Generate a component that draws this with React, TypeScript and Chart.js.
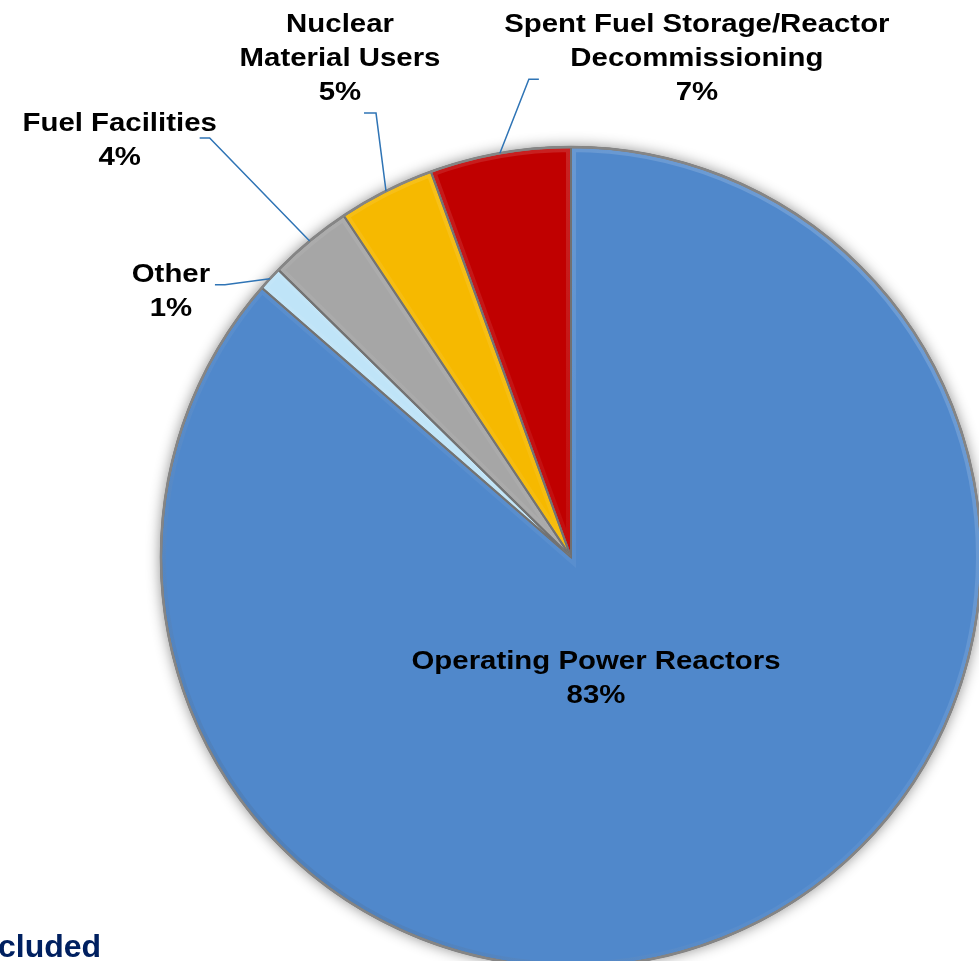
import React, { useEffect, useRef } from "react";
import { Chart, registerables } from "chart.js";
Chart.register(...registerables);

// Slices clockwise from 12 o'clock
const categories = [
  "Operating Power Reactors",
  "Other",
  "Fuel Facilities",
  "Nuclear Material Users",
  "Spent Fuel Storage/Reactor Decommissioning",
];
// Angular shares as drawn in the picture
const shares = [86.4, 0.95, 3.3, 3.8, 5.55];
// Percent labels printed on the chart
const percentLabels = ["83%", "1%", "4%", "5%", "7%"];
const labelLines = [
  ["Operating Power Reactors"],
  ["Other"],
  ["Fuel Facilities"],
  ["Nuclear", "Material Users"],
  ["Spent Fuel Storage/Reactor", "Decommissioning"],
];
const sliceColors = ["#5088CB", "#BFE4F8", "#A6A6A6", "#F6B900", "#C00000"];

// label layout (style): leader elbow/end relative to slice anchor, text block centre relative to anchor
type Lay = { inside?: boolean; elbow?: [number, number]; endDx?: number; text: [number, number] };
const labelLayout: Lay[] = [
  { inside: true, text: [25, 122] },
  { elbow: [-45, 6], endDx: -10, text: [-99, 13] },
  { elbow: [-100, -103], endDx: -10, text: [-190, -100] },
  { elbow: [-10, -78], endDx: -12, text: [-46, -132] },
  { elbow: [29, -74], endDx: 10, text: [197, -94] },
];

const FONT = 'bold 26px "Liberation Sans", Arial, sans-serif';
const LINE_H = 34;
const TEXT_STRETCH = 1.13;

const decorPlugin = {
  id: "decor",
  beforeDatasetsDraw(chart: any) {
    const meta = chart.getDatasetMeta(0);
    const a = meta.data[0];
    if (!a) return;
    const { x, y, outerRadius } = a.getProps(["x", "y", "outerRadius"], true);
    const ctx = chart.ctx;
    ctx.save();
    ctx.shadowColor = "rgba(0,0,0,0.45)";
    ctx.shadowBlur = 14;
    ctx.beginPath();
    ctx.arc(x, y, outerRadius + 1, 0, Math.PI * 2);
    ctx.fillStyle = "#7F7F7F";
    ctx.fill();
    ctx.restore();
  },
  afterDatasetsDraw(chart: any) {
    const ctx = chart.ctx;
    const meta = chart.getDatasetMeta(0);
    // bevel + outlines
    meta.data.forEach((arc: any) => {
      const { x, y, startAngle, endAngle, outerRadius } = arc.getProps(
        ["x", "y", "startAngle", "endAngle", "outerRadius"], true);
      ctx.save();
      ctx.beginPath();
      ctx.moveTo(x, y);
      ctx.arc(x, y, outerRadius, startAngle, endAngle);
      ctx.closePath();
      ctx.clip();
      const g = ctx.createLinearGradient(x + outerRadius, y - outerRadius, x - outerRadius, y + outerRadius);
      g.addColorStop(0, "rgba(255,255,255,0.22)");
      g.addColorStop(0.5, "rgba(255,255,255,0.05)");
      g.addColorStop(1, "rgba(0,0,0,0.16)");
      ctx.lineWidth = 10;
      ctx.strokeStyle = g;
      ctx.stroke();
      ctx.lineWidth = 2;
      ctx.strokeStyle = "rgba(110,110,110,0.9)";
      ctx.stroke();
      ctx.restore();
    });
    // outer ring
    const a0 = meta.data[0];
    if (a0) {
      const { x, y, outerRadius } = a0.getProps(["x", "y", "outerRadius"], true);
      ctx.save();
      ctx.beginPath();
      ctx.arc(x, y, outerRadius, 0, Math.PI * 2);
      ctx.lineWidth = 2.5;
      ctx.strokeStyle = "#858585";
      ctx.stroke();
      ctx.restore();
    }
    // labels
    meta.data.forEach((arc: any, i: number) => {
      const { x, y, startAngle, endAngle, outerRadius } = arc.getProps(
        ["x", "y", "startAngle", "endAngle", "outerRadius"], true);
      const lay = labelLayout[i];
      const mid = (startAngle + endAngle) / 2;
      let bx: number, by: number;
      if (lay.inside) {
        bx = x; by = y;
      } else {
        bx = x + Math.cos(mid) * outerRadius;
        by = y + Math.sin(mid) * outerRadius;
        const ex = bx + lay.elbow![0], ey = by + lay.elbow![1];
        ctx.save();
        ctx.beginPath();
        ctx.moveTo(bx, by);
        ctx.lineTo(ex, ey);
        ctx.lineTo(ex + lay.endDx!, ey);
        ctx.lineWidth = 1.5;
        ctx.strokeStyle = "#2F74B5";
        ctx.stroke();
        ctx.restore();
      }
      const lines = [...labelLines[i], percentLabels[i]];
      const cx = bx + lay.text[0], cy = by + lay.text[1];
      ctx.save();
      ctx.translate(cx, cy);
      ctx.scale(TEXT_STRETCH, 1);
      ctx.font = FONT;
      ctx.fillStyle = "#000000";
      ctx.textAlign = "center";
      ctx.textBaseline = "middle";
      lines.forEach((ln, k) => {
        ctx.fillText(ln, 0, (k - (lines.length - 1) / 2) * LINE_H);
      });
      ctx.restore();
    });
    // cut-off footer text
    ctx.save();
    ctx.font = 'bold 32px "Liberation Sans", Arial, sans-serif';
    ctx.fillStyle = "#002060";
    ctx.textAlign = "left";
    ctx.textBaseline = "alphabetic";
    ctx.fillText("cluded", -2, 957);
    ctx.restore();
  },
};

export default function App() {
  const ref = useRef<HTMLCanvasElement>(null);
  useEffect(() => {
    document.body.style.margin = "0";
    document.body.style.overflow = "hidden";
    const chart = new Chart(ref.current!, {
      type: "pie",
      data: {
        labels: categories,
        datasets: [
          {
            data: shares,
            backgroundColor: sliceColors,
            borderColor: "#7F7F7F",
            borderWidth: 2,
            radius: 410,
            clip: false,
          } as any,
        ],
      },
      options: {
        animation: false,
        responsive: false,
        maintainAspectRatio: false,
        layout: { padding: { left: 163, top: 153, right: 0, bottom: 0 } },
        plugins: { legend: { display: false }, tooltip: { enabled: false } },
      },
      plugins: [decorPlugin],
    });
    return () => chart.destroy();
  }, []);
  return (
    <div style={{ position: "fixed", left: 0, top: 0, width: 979, height: 961, background: "#fff" }}>
      <canvas ref={ref} width={979} height={961} style={{ width: 979, height: 961, display: "block" }} />
    </div>
  );
}
